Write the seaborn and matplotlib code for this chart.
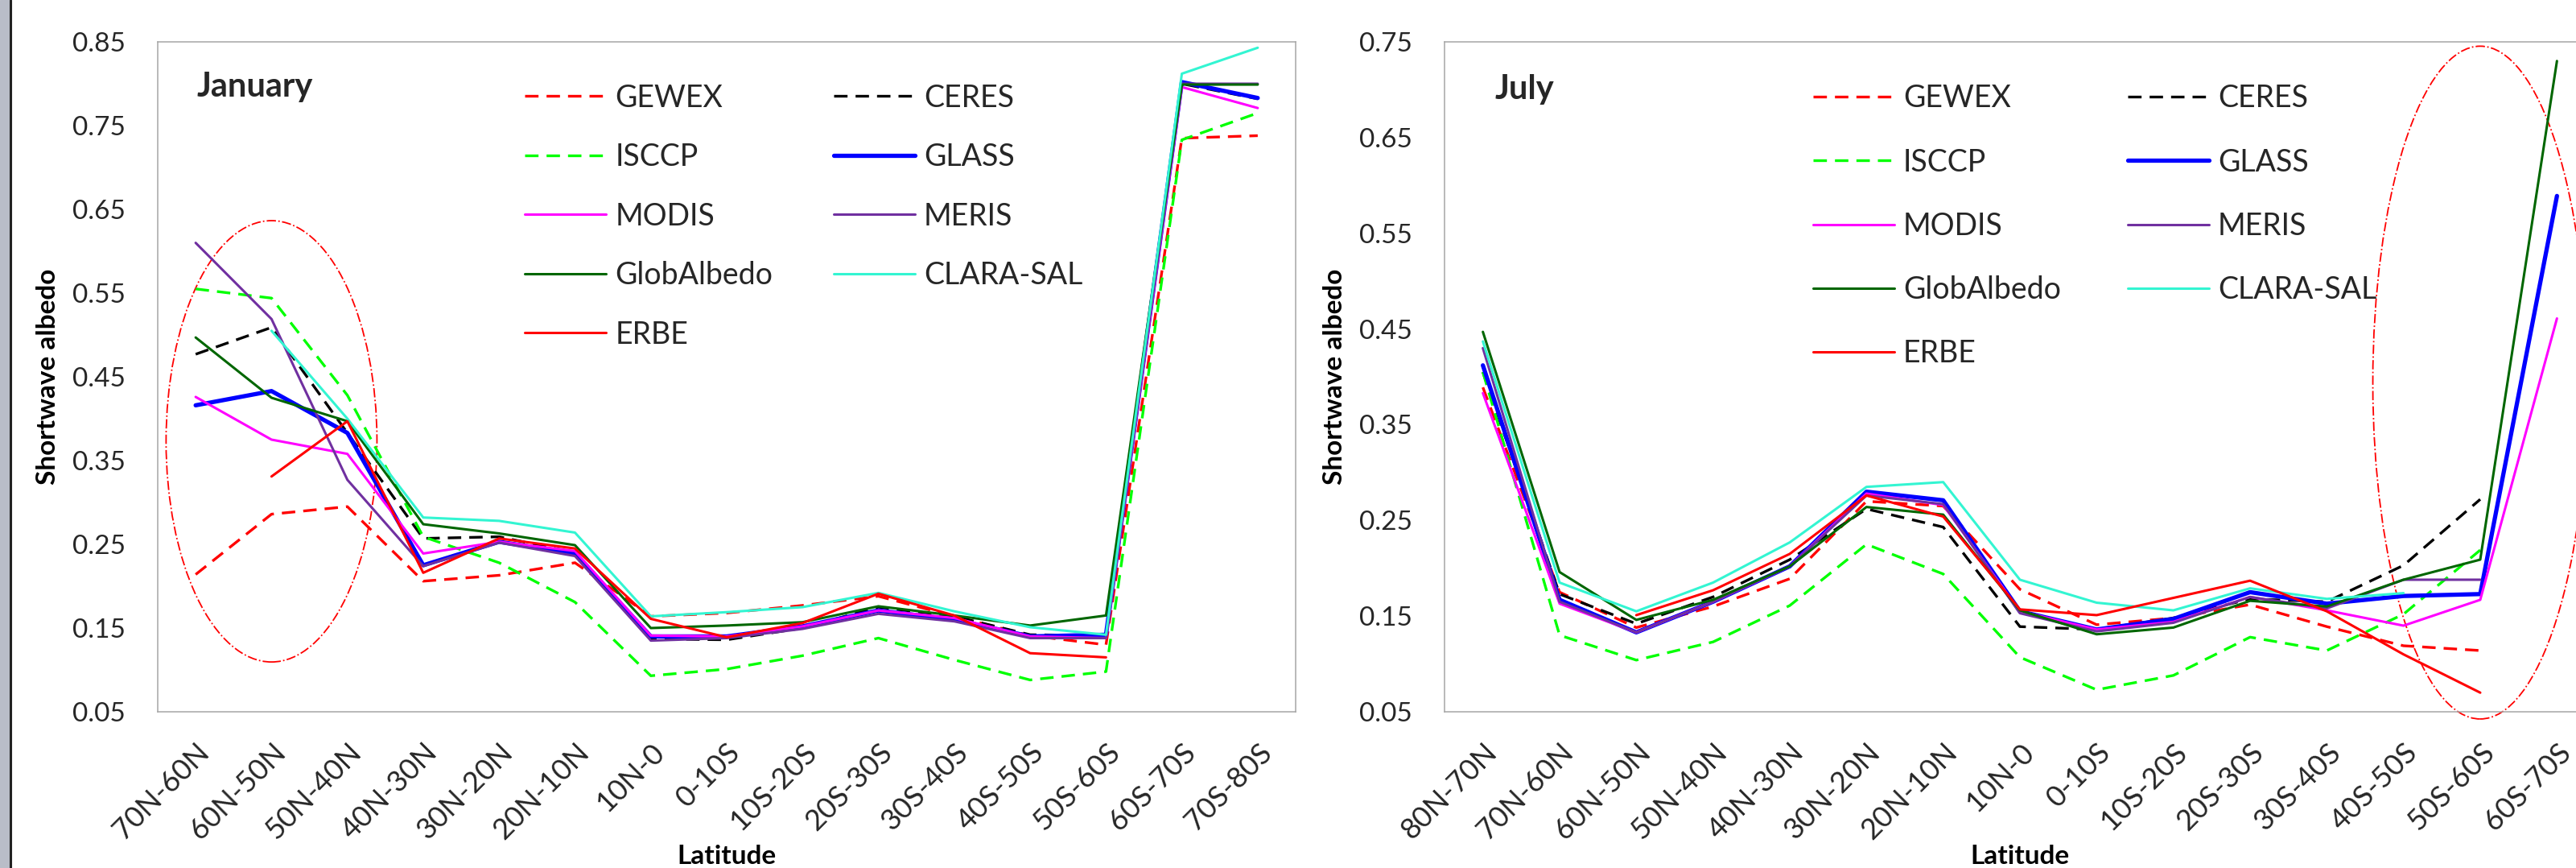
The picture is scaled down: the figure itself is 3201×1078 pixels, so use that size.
import numpy as np
import pandas as pd
import matplotlib
matplotlib.use("Agg")
import matplotlib.pyplot as plt
import seaborn as sns
from matplotlib.patches import Ellipse, Rectangle
from matplotlib.lines import Line2D
from matplotlib.ticker import FormatStrFormatter

nan = np.nan

# latitude bands
lat_jan = ["70N-60N", "60N-50N", "50N-40N", "40N-30N", "30N-20N", "20N-10N", "10N-0",
           "0-10S", "10S-20S", "20S-30S", "30S-40S", "40S-50S", "50S-60S", "60S-70S", "70S-80S"]
lat_jul = ["80N-70N", "70N-60N", "60N-50N", "50N-40N", "40N-30N", "30N-20N", "20N-10N", "10N-0",
           "0-10S", "10S-20S", "20S-30S", "30S-40S", "40S-50S", "50S-60S", "60S-70S"]

# January shortwave albedo
gewex_jan = [0.214, 0.286, 0.295, 0.206, 0.213, 0.228, 0.164, 0.168, 0.177, 0.188, 0.164, 0.141, 0.130, 0.735, 0.738]
ceres_jan = [0.477, 0.509, 0.383, 0.257, 0.259, 0.240, 0.137, 0.136, 0.150, 0.175, 0.164, 0.142, 0.141, 0.800, 0.782]
isccp_jan = [0.555, 0.544, 0.428, 0.259, 0.228, 0.181, 0.093, 0.101, 0.117, 0.138, 0.112, 0.088, 0.098, 0.733, 0.765]
glass_jan = [0.416, 0.433, 0.383, 0.225, 0.253, 0.239, 0.140, 0.140, 0.152, 0.171, 0.160, 0.140, 0.142, 0.802, 0.783]
modis_jan = [0.426, 0.375, 0.358, 0.239, 0.253, 0.242, 0.141, 0.140, 0.152, 0.171, 0.162, 0.140, 0.138, 0.796, 0.771]
meris_jan = [0.610, 0.519, 0.327, 0.224, 0.252, 0.236, 0.135, 0.138, 0.149, 0.167, 0.158, 0.138, 0.138, 0.800, 0.800]
globalbedo_jan = [0.497, 0.425, 0.397, 0.274, 0.263, 0.249, 0.150, 0.153, 0.157, 0.176, 0.165, 0.153, 0.165, 0.799, 0.799]
clara_jan = [nan, 0.505, 0.400, 0.282, 0.278, 0.264, 0.164, 0.169, 0.175, 0.192, 0.170, 0.151, 0.142, 0.812, 0.843]
erbe_jan = [nan, 0.331, 0.397, 0.216, 0.257, 0.245, 0.161, 0.139, 0.156, 0.191, 0.165, 0.120, 0.115, nan, nan]

# July
gewex_jul = [0.389, 0.175, 0.138, 0.160, 0.189, 0.270, 0.265, 0.178, 0.141, 0.148, 0.162, 0.139, 0.119, 0.114, nan]
ceres_jul = [0.405, 0.173, 0.142, 0.170, 0.209, 0.262, 0.243, 0.139, 0.136, 0.148, 0.168, 0.165, 0.203, 0.272, nan]
isccp_jul = [0.405, 0.130, 0.104, 0.123, 0.161, 0.225, 0.194, 0.107, 0.073, 0.088, 0.128, 0.114, 0.152, 0.219, nan]
glass_jul = [0.412, 0.167, 0.133, 0.165, 0.202, 0.280, 0.271, 0.155, 0.136, 0.147, 0.175, 0.163, 0.171, 0.173, 0.589]
modis_jul = [0.383, 0.163, 0.133, 0.165, 0.202, 0.278, 0.266, 0.155, 0.136, 0.144, 0.170, 0.156, 0.140, 0.167, 0.461]
meris_jul = [0.430, 0.165, 0.133, 0.165, 0.202, 0.276, 0.267, 0.153, 0.134, 0.143, 0.170, 0.158, 0.188, 0.188, nan]
globalbedo_jul = [0.447, 0.196, 0.146, 0.167, 0.202, 0.264, 0.256, 0.156, 0.131, 0.138, 0.166, 0.160, 0.188, 0.209, 0.730]
clara_jul = [0.437, 0.185, 0.155, 0.185, 0.227, 0.285, 0.290, 0.188, 0.164, 0.156, 0.179, 0.168, 0.174, nan, nan]
erbe_jul = [nan, nan, 0.151, 0.177, 0.215, 0.276, 0.254, 0.157, 0.151, 0.169, 0.187, 0.155, 0.110, 0.070, nan]

names = ["GEWEX", "CERES", "ISCCP", "GLASS", "MODIS", "MERIS", "GlobAlbedo", "CLARA-SAL", "ERBE"]
jan = dict(zip(names, [gewex_jan, ceres_jan, isccp_jan, glass_jan, modis_jan, meris_jan,
                       globalbedo_jan, clara_jan, erbe_jan]))
jul = dict(zip(names, [gewex_jul, ceres_jul, isccp_jul, glass_jul, modis_jul, meris_jul,
                       globalbedo_jul, clara_jul, erbe_jul]))

dash = (0, (5, 3))
styles = {
    "GEWEX": ("#ff0000", dash, 2.4),
    "CERES": ("#000000", dash, 2.4),
    "ISCCP": ("#00ff00", dash, 2.4),
    "GLASS": ("#0000ff", "-", 3.8),
    "MODIS": ("#ff00ff", "-", 2.2),
    "MERIS": ("#7030a0", "-", 2.2),
    "GlobAlbedo": ("#006600", "-", 2.2),
    "CLARA-SAL": ("#33f5d2", "-", 2.2),
    "ERBE": ("#ff0000", "-", 2.2),
}
# legend fills column by column
legend_order = ["GEWEX", "ISCCP", "MODIS", "GlobAlbedo", "ERBE", "CERES", "GLASS", "MERIS", "CLARA-SAL"]

sns.set_theme(style="white")
plt.rcParams['font.family'] = ['Lato', 'DejaVu Sans']

W, H = 3201, 1078
fig = plt.figure(figsize=(W / 100, H / 100), dpi=100)
fig.patch.set_facecolor("white")

# grey window edge on the far left
fig.patches.append(Rectangle((0, 0), 11 / W, 1, transform=fig.transFigure, color="#b9bdc8", zorder=0))
fig.add_artist(Line2D([12.5 / W, 12.5 / W], [0, 1], transform=fig.transFigure, color="#222222", lw=2.2))

bottom = (H - 884) / H
height = 832 / H
ax1 = fig.add_axes([196 / W, bottom, 1414 / W, height])
ax2 = fig.add_axes([1795 / W, bottom, 1430 / W, height])


def draw(ax, cats, data, ylim, title, ell, leg_pos, colsp, labsp):
    x = np.arange(len(cats))
    for name in names:
        df = pd.DataFrame({"x": x, "y": data[name]}).dropna()
        color, ls, lw = styles[name]
        sns.lineplot(data=df, x="x", y="y", ax=ax, color=color, linestyle=ls,
                     linewidth=lw, errorbar=None, sort=False)
    ax.set_xlim(-0.5, len(cats) - 0.5)
    ax.set_ylim(*ylim)
    ax.set_yticks(np.arange(ylim[0], ylim[1] + 0.001, 0.1))
    ax.yaxis.set_major_formatter(FormatStrFormatter("%.2f"))
    ax.set_xticks(x)
    ax.set_xticklabels(cats, rotation=45, ha="right", va="top", rotation_mode="anchor")
    for sp in ax.spines.values():
        sp.set_color("#a6a6a6")
        sp.set_linewidth(1.1)
    ax.tick_params(axis="both", direction="in", length=8.6, width=1.1, color="#a6a6a6",
                   labelsize=24, labelcolor="#262626")
    ax.tick_params(axis="x", labelsize=26, pad=24)
    ax.tick_params(axis="y", pad=29)
    ax.set_ylabel("Shortwave albedo", fontsize=24, fontweight="bold", labelpad=11, color="black")
    ax.set_xlabel("Latitude", fontsize=24, fontweight="bold", color="black")
    ax.xaxis.set_label_coords(0.5, -0.198)
    ax.text(title[1], title[2], title[0], transform=ax.transAxes, fontsize=30,
            fontweight="bold", va="baseline", ha="left")
    e = Ellipse(ell[0], ell[1], ell[2], fill=False, edgecolor="#ff0000",
                linestyle="-.", linewidth=1.3, clip_on=False)
    ax.add_patch(e)
    handles = [Line2D([], [], color=styles[n][0], linestyle=styles[n][1], linewidth=styles[n][2])
               for n in legend_order]
    ax.legend(handles, legend_order, ncol=2, loc="upper left", bbox_to_anchor=leg_pos,
              frameon=False, fontsize=27, handlelength=2.7, handletextpad=0.3,
              columnspacing=colsp, labelspacing=labsp, borderpad=0, borderaxespad=0)


draw(ax1, lat_jan, jan, (0.05, 0.85), ("January", 0.034, 0.918),
     ((1, 0.373), 2.78, 0.527), (0.3225, 0.938), 2.0, 1.0)
draw(ax2, lat_jul, jul, (0.05, 0.75), ("July", 0.044, 0.915),
     ((13, 0.394), 2.80, 0.703), (0.320, 0.937), 2.2, 1.15)

fig.savefig("out.png", dpi=100)
